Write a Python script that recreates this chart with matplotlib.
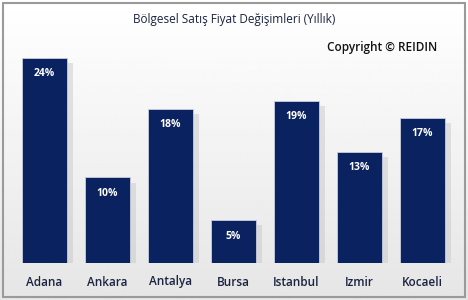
import numpy as np
import matplotlib.pyplot as plt
from matplotlib.patches import Rectangle

cities = ["Adana", "Ankara", "Antalya", "Bursa", "Istanbul", "Izmir", "Kocaeli"]
change = [24, 10, 18, 5, 19, 13, 17]
labels = ["24%", "10%", "18%", "5%", "19%", "13%", "17%"]

plt.rcParams['font.family'] = ['Open Sans', 'DejaVu Sans']

W, H = 468, 300
fig = plt.figure(figsize=(W / 100, H / 100), dpi=100)

# background gradient with frame
bg = fig.add_axes([0, 0, 1, 1], zorder=0)
grad = np.linspace(1.0, 0.90, 200).reshape(-1, 1)
bg.imshow(grad, cmap="gray", vmin=0, vmax=1, aspect="auto", extent=[0, 1, 0, 1])
bg.add_patch(Rectangle((3 / W, 3 / H), 1 - 6 / W, 1 - 6 / H, fill=False,
                       edgecolor="#9a9a9a", lw=1.5, transform=bg.transAxes))
bg.set_xlim(0, 1); bg.set_ylim(0, 1)
bg.axis("off")

ax = fig.add_axes([13 / W, (H - 263) / H, (454 - 13) / W, (263 - 30) / H], zorder=1)
ax.patch.set_alpha(0)
x = np.arange(len(cities))

# soft shadow behind bars
ax.bar(x + 0.1, np.array(change) - 0.6, width=0.72, color="#c4c4c4", alpha=0.45, zorder=1)
ax.bar(x, change, width=0.71, color="#0a225f", edgecolor="#c9cde0", linewidth=0.6, zorder=2)

for xi, v, lab in zip(x, change, labels):
    ax.text(xi, v - 1.85, lab, ha="center", va="center", color="white",
            fontsize=7.5, fontweight="bold", zorder=3)

ax.set_xlim(-0.5, len(cities) - 0.5)
ax.set_ylim(0, 27.25)
ax.set_xticks(x)
ax.set_xticklabels(cities, fontsize=8.5, color="#1a2340", fontweight="semibold")
ax.tick_params(axis="x", length=0, pad=9)
ax.set_yticks([])
for s in ax.spines.values():
    s.set_visible(False)

fig.text(234 / W, 1 - 19 / H, "Bölgesel Satış Fiyat Değişimleri (Yıllık)",
         ha="center", va="center", fontsize=8.5, color="#1a2340")
fig.text(382 / W, 1 - 48 / H, "Copyright © REIDIN", ha="center", va="center",
         fontsize=8.5, color="#111111", fontweight="semibold")

fig.savefig("out.png", dpi=100)
